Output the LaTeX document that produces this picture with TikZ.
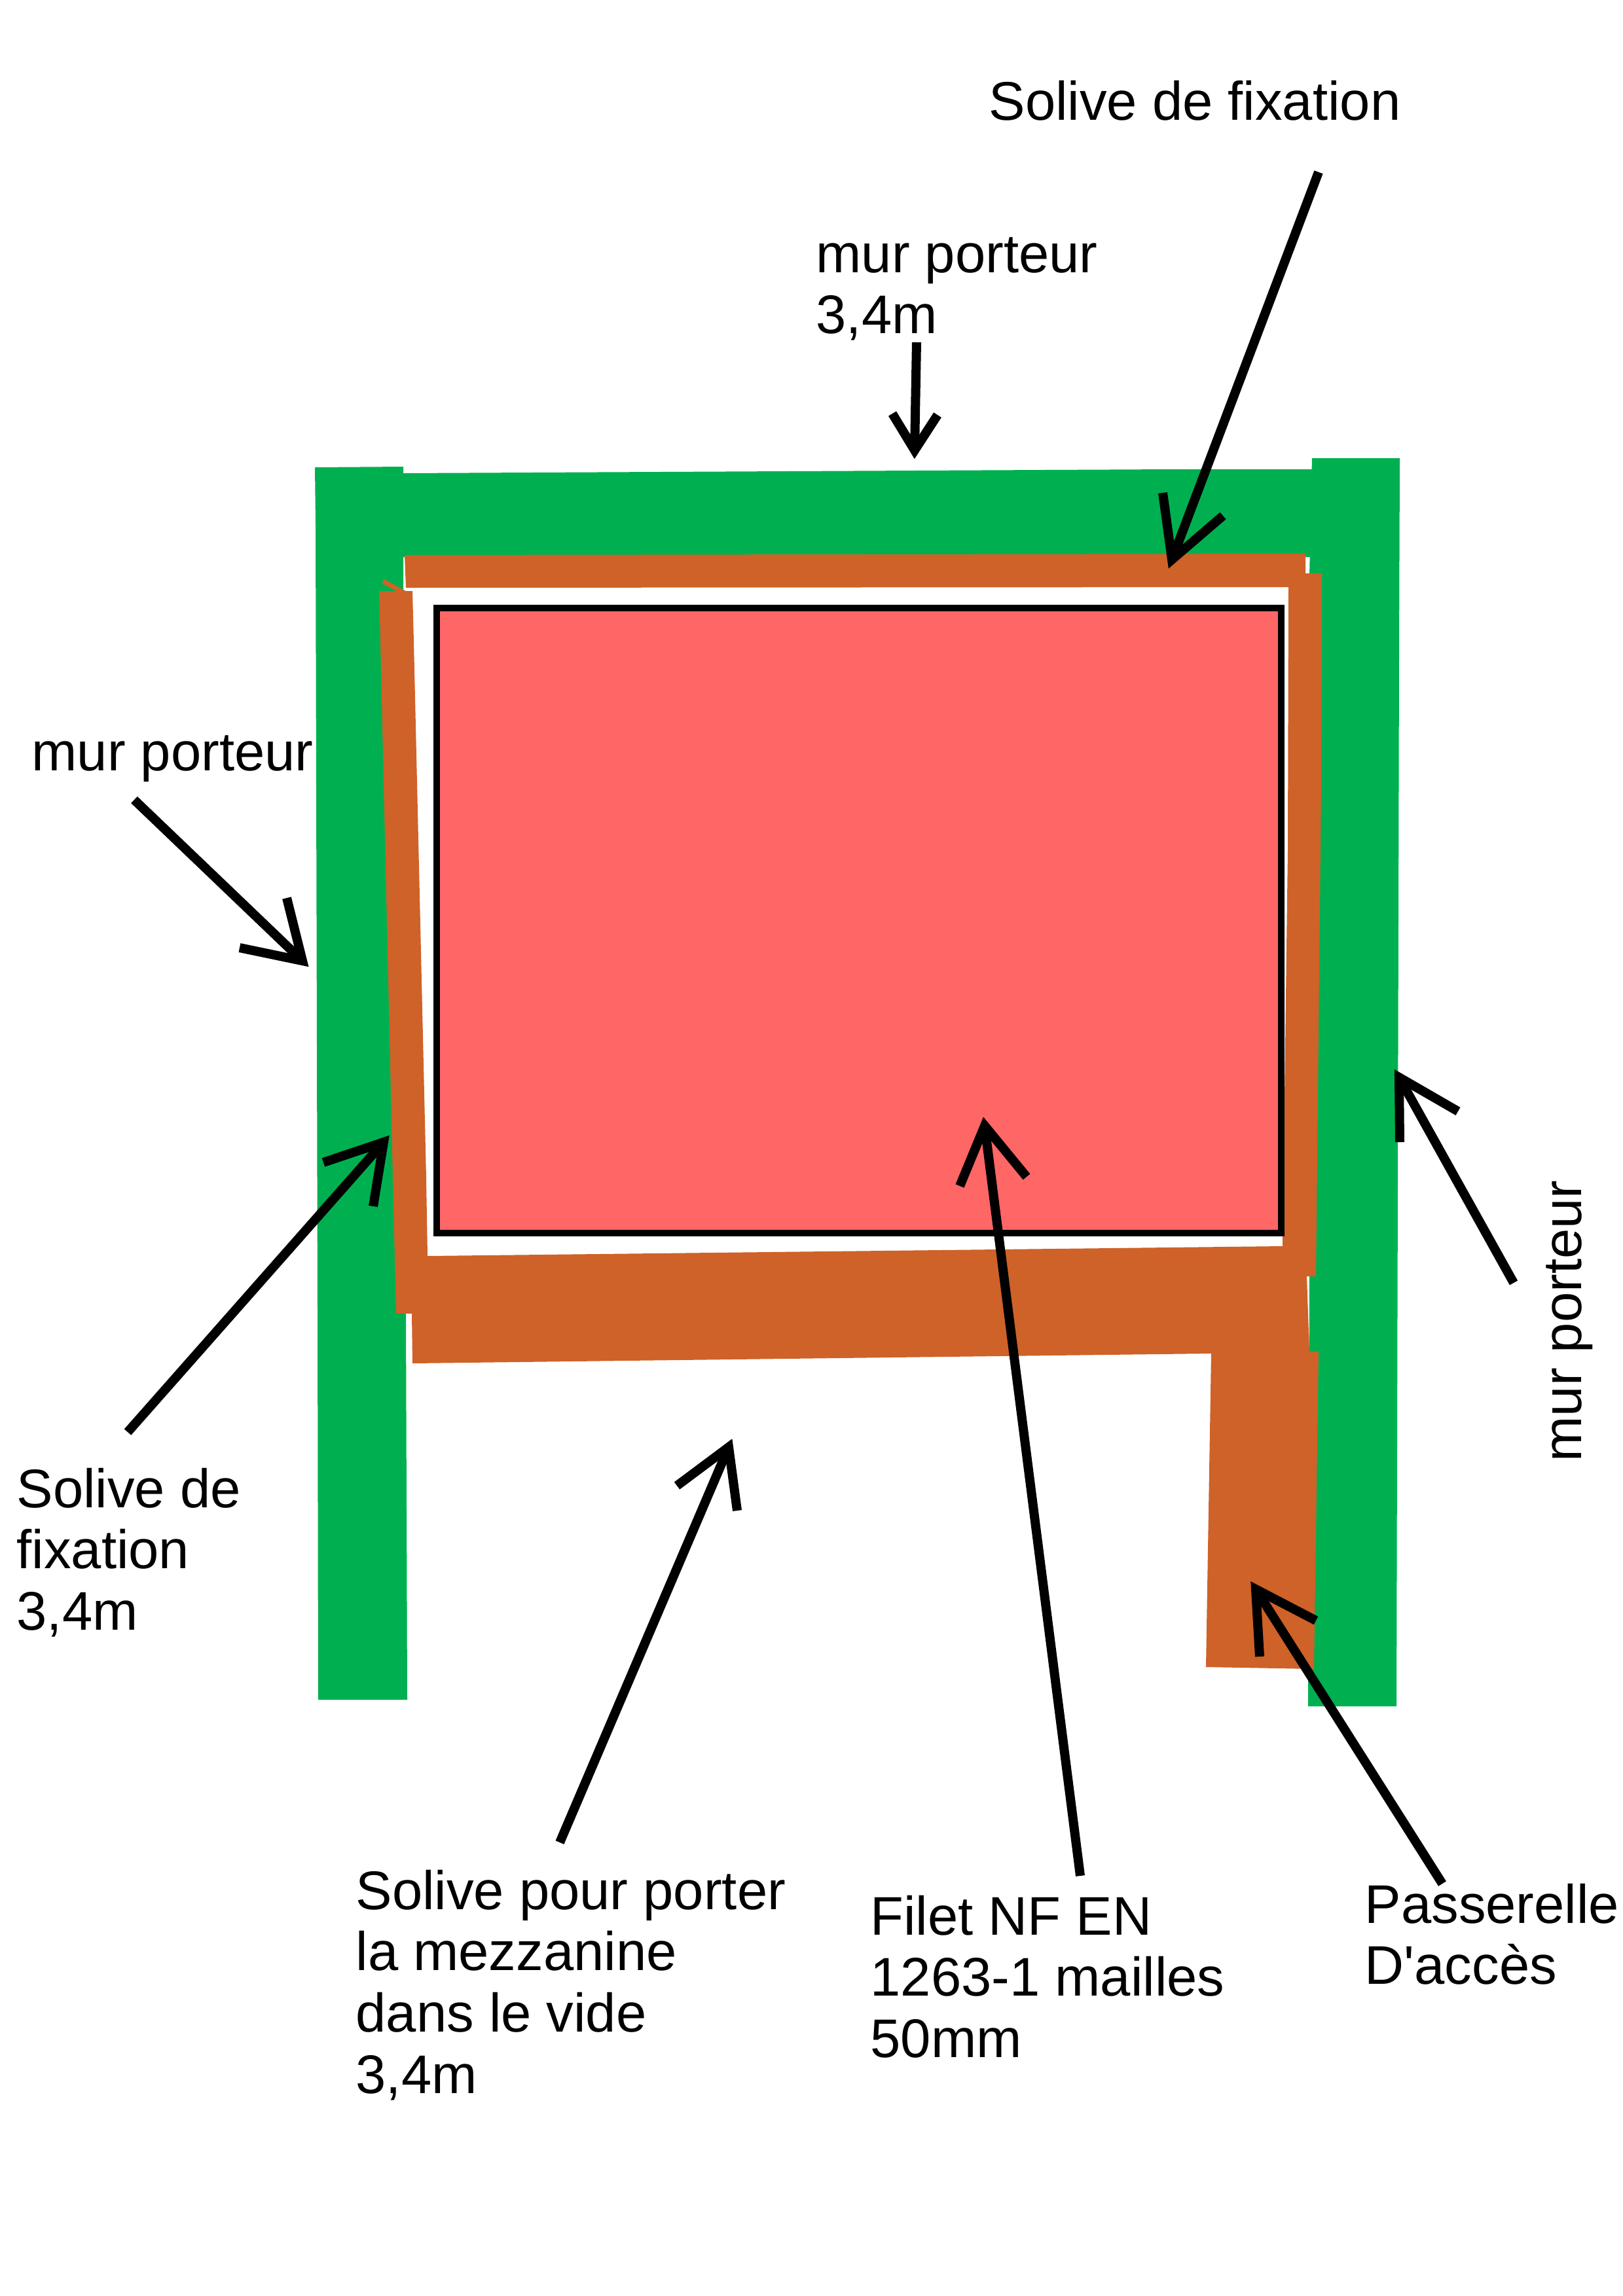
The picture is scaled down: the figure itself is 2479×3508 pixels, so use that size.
\documentclass[tikz,border=0pt]{standalone}
\usepackage{fontspec}
\setmainfont{Liberation Sans}
\definecolor{wallgreen}{HTML}{00B050}
\definecolor{joist}{HTML}{CE6228}
\definecolor{netred}{HTML}{FF6666}
\tikzset{
  wall/.style={fill=wallgreen,draw=none},
  beam/.style={fill=joist,draw=none},
  net/.style={fill=netred,draw=black,line width=9.5*0.2845pt,line join=miter},
  pointer/.style={draw=black,line width=14*0.2845pt,line cap=butt,line join=miter,miter limit=20},
  lbl/.style={anchor=base west,inner sep=0pt,font=\fontsize{23.65}{26.7}\selectfont,text=black}
}
\newcommand{\lines}[1]{\begin{tabular}[t]{@{}l@{}}#1\end{tabular}}
\begin{document}
\begin{tikzpicture}[x=0.01cm,y=-0.01cm]
\useasboundingbox (0,0) rectangle (2479,3508);
% walls
\fill[wall] (481,714) -- (616,713) -- (616,723) -- (1790,717) -- (2004,717) -- (2004,851) -- (616,851) -- (622,2594) -- (622,2597) -- (486,2597) -- (485,2000) -- (482,800) -- cycle;
\fill[wall] (2004,700) -- (2138,700) -- (2137,1000) -- (2133,2607) -- (1998,2607) -- (2000,1950) -- (2000,880) -- cycle;
% joists
\fill[beam] (618,848) -- (1994,846) -- (1994,876) -- (2019,876) -- (2018,1200) -- (2010,1950) -- (1996,1950) -- (2000,2065) -- (2014,2065) -- (2007,2550) -- (1842,2547) -- (1850,2068) -- (630,2083) -- (629,2007) -- (605,2007) -- (600,1800) -- (581,980) -- (579,903) -- (630,903) -- (632,980) -- (651,1800) -- (653,1919) -- (1959,1904) -- (1967,1300) -- (1968,897) -- (620,898) -- cycle;
\draw[joist,line width=7*0.2845pt] (585,888) -- (618,906);
% net
\draw[net] (667,929) rectangle (1957,1884);
% pointers
\coordinate (t1) at (1790,855);
\coordinate (s1) at (2014,263);
\draw[pointer] (s1) -- (t1);
\draw[pointer] (1776,753) -- (t1) -- (1868,788);
\coordinate (t2) at (1397,688);
\coordinate (s2) at (1400,523);
\draw[pointer] (s2) -- (t2);
\draw[pointer] (1363,632) -- (t2) -- (1432,634);
\coordinate (t3) at (462,1468);
\coordinate (s3) at (205,1222);
\draw[pointer] (s3) -- (t3);
\draw[pointer] (438,1372) -- (t3) -- (366,1448);
\coordinate (t4) at (586,1745);
\coordinate (s4) at (195,2188);
\draw[pointer] (s4) -- (t4);
\draw[pointer] (494,1776) -- (t4) -- (570,1843);
\coordinate (t5) at (2137,1646);
\coordinate (s5) at (2312,1960);
\draw[pointer] (s5) -- (t5);
\draw[pointer] (2227,1698) -- (t5) -- (2138,1745);
\coordinate (t6) at (1113,2211);
\coordinate (s6) at (855,2815);
\draw[pointer] (s6) -- (t6);
\draw[pointer] (1034,2270) -- (t6) -- (1126,2308);
\coordinate (t7) at (1504,1720);
\coordinate (s7) at (1650,2866);
\draw[pointer] (s7) -- (t7);
\draw[pointer] (1466,1812) -- (t7) -- (1568,1798);
\coordinate (t8) at (1918,2428);
\coordinate (s8) at (2203,2878);
\draw[pointer] (s8) -- (t8);
\draw[pointer] (1924,2531) -- (t8) -- (2010,2476);
% labels
\node[lbl] (solivetop) at (1510,183) {Solive de fixation};
\node[lbl] (murtop) at (1246,416) {\lines{mur porteur\\3,4m}};
\node[lbl] (murleft) at (48,1177) {mur porteur};
\node[lbl] (soliveleft) at (25,2303) {\lines{Solive de\\fixation\\3,4m}};
\node[lbl] (solivemez) at (543,2917) {\lines{Solive pour porter\\la mezzanine\\dans le vide\\3,4m}};
\node[lbl] (filet) at (1329,2956) {\lines{Filet NF EN\\1263-1 mailles\\50mm}};
\node[lbl] (pass) at (2084,2938) {\lines{Passerelle\\D\textquotesingle accès}};
\node[lbl,rotate=90] (murright) at (2415,2234) {mur porteur};
\end{tikzpicture}
\end{document}
